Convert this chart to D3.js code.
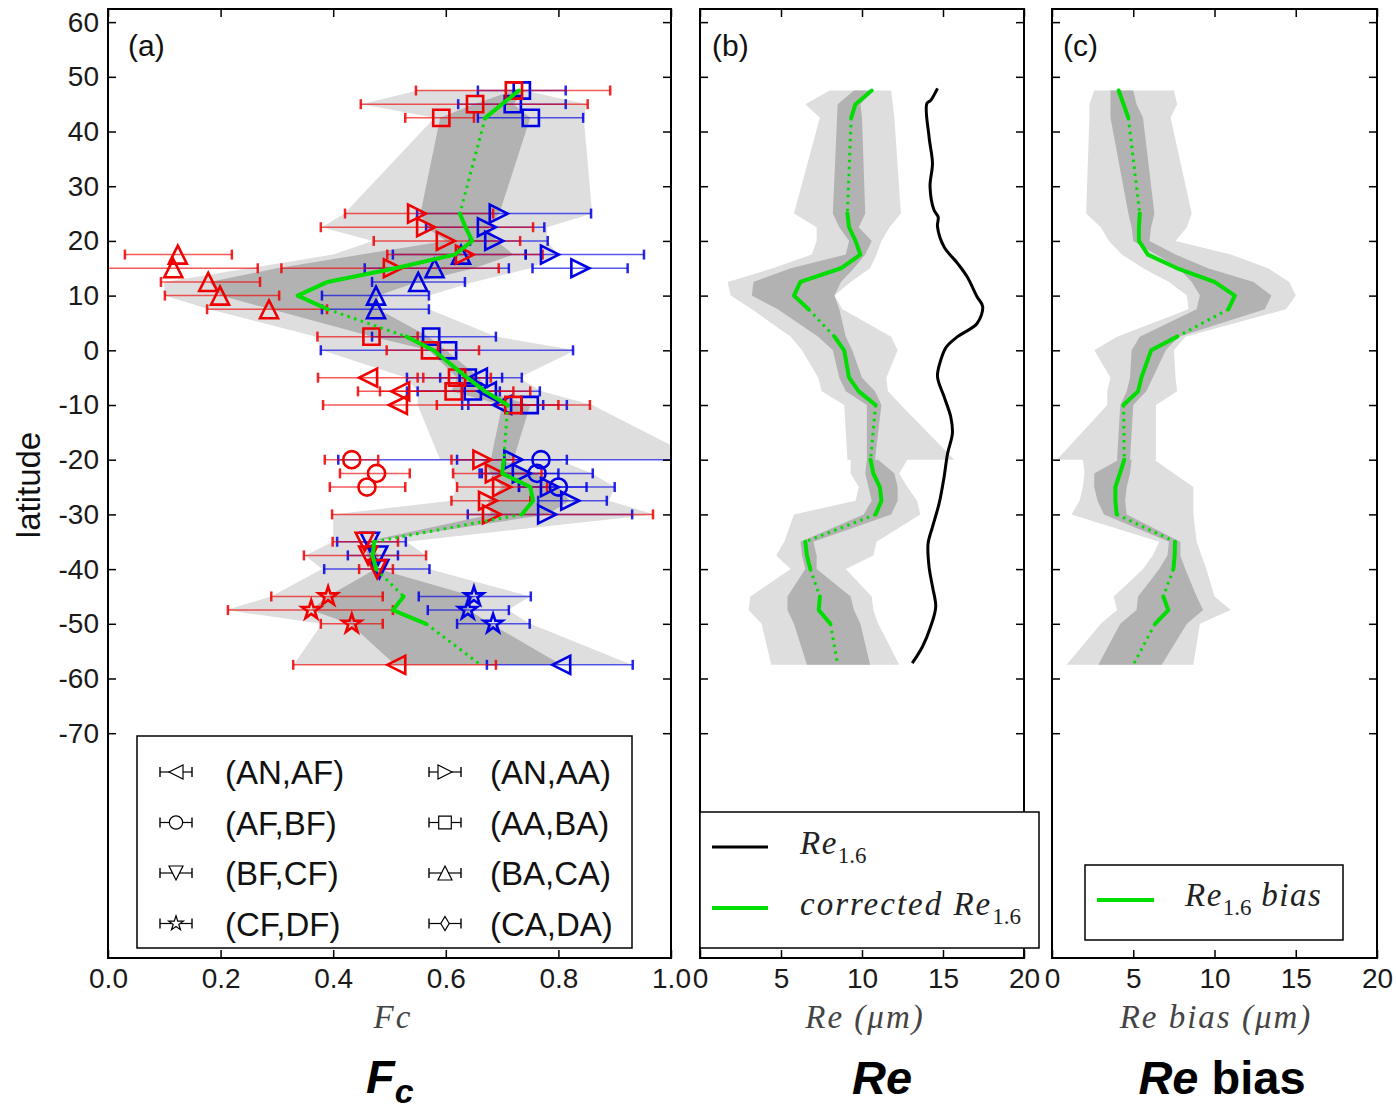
<!DOCTYPE html>
<html>
<head>
<meta charset="utf-8">
<script src="https://cdn.jsdelivr.net/npm/d3@7"></script>
<style>
  body { margin: 0; background: #fff; }
  svg text { font-family: "Liberation Sans", Arial, sans-serif; }
  svg text.serif { font-family: "Liberation Serif", "DejaVu Serif", serif; }
</style>
</head>
<body>
<div id="chart"></div>
<script>
// ---- data ----
const pairNames = ['(AN,AF)', '(AN,AA)', '(AF,BF)', '(AA,BA)', '(BF,CF)', '(BA,CA)', '(CF,DF)', '(CA,DA)'];

// Fc markers: pair index, latitude, red value + error bar, blue value + error bar
const markerPair = [3, 3, 3, 1, 1, 1, 1, 1, 5, 5, 5, 5, 5, 3, 3, 0, 0, 0, 3, 3, 3, 1, 1, 1, 1, 1, 2, 2, 2, 4, 4, 4, 6, 6, 6, 0];
const markerLat  = [47.5, 45, 42.5, 25, 22.5, 20, 17.5, 15, 17.5, 15, 12.5, 10, 7.5, 2.5, 0, -5, -7.5, -10, -5, -7.5, -10, -20, -22.5, -25, -27.5, -30, -20, -22.5, -25, -35, -37.5, -40, -45, -47.5, -50, -57.5];
const redFc  = [0.721, 0.652, 0.592, 0.549, 0.565, 0.600, 0.634, 0.506, 0.124, 0.116, 0.178, 0.199, 0.286, 0.468, 0.572, 0.462, 0.519, 0.515, 0.620, 0.614, 0.720, 0.665, 0.687, 0.700, 0.675, 0.682, 0.433, 0.477, 0.460, 0.456, 0.462, 0.478, 0.391, 0.361, 0.433, 0.512];
const redLo  = [0.547, 0.449, 0.528, 0.421, 0.378, 0.472, 0.496, 0.308, 0.030, -0.02, 0.094, 0.101, 0.176, 0.372, 0.495, 0.373, 0.444, 0.382, 0.560, 0.483, 0.584, 0.610, 0.613, 0.620, 0.610, 0.398, 0.385, 0.412, 0.394, 0.399, 0.348, 0.446, 0.290, 0.213, 0.378, 0.329];
const redHi  = [0.892, 0.852, 0.650, 0.684, 0.755, 0.732, 0.772, 0.694, 0.220, 0.266, 0.270, 0.304, 0.389, 0.550, 0.659, 0.550, 0.750, 0.856, 0.680, 0.720, 0.800, 0.720, 0.770, 0.780, 0.750, 0.968, 0.480, 0.536, 0.528, 0.515, 0.565, 0.506, 0.488, 0.506, 0.488, 0.689];
const blueFc = [0.735, 0.719, 0.751, 0.694, 0.673, 0.686, 0.785, 0.839, 0.627, 0.580, 0.551, 0.476, 0.476, 0.574, 0.604, 0.657, 0.673, 0.700, 0.639, 0.648, 0.749, 0.720, 0.735, 0.785, 0.821, 0.780, 0.769, 0.762, 0.800, 0.465, 0.480, 0.482, 0.650, 0.639, 0.684, 0.805];
const blueLo = [0.657, 0.622, 0.657, 0.549, 0.565, 0.643, 0.742, 0.754, 0.506, 0.456, 0.469, 0.380, 0.380, 0.469, 0.378, 0.531, 0.550, 0.640, 0.590, 0.531, 0.629, 0.620, 0.660, 0.730, 0.764, 0.639, 0.409, 0.664, 0.730, 0.407, 0.426, 0.384, 0.552, 0.568, 0.620, 0.673];
const blueHi = [0.813, 0.813, 0.844, 0.858, 0.775, 0.781, 0.952, 0.923, 0.742, 0.712, 0.634, 0.570, 0.570, 0.689, 0.826, 0.735, 0.767, 0.773, 0.700, 0.696, 0.815, 1.050, 0.800, 0.850, 0.886, 0.931, 0.815, 0.861, 0.900, 0.529, 0.515, 0.571, 0.751, 0.712, 0.749, 0.932];

// rows used for the shaded spreads and the green profiles
const rowLat   = [47.5, 45, 42.5, 25, 22.5, 20, 17.5, 15, 12.5, 10, 7.5, 2.5, 0, -5, -7.5, -10, -20, -20, -22.5, -25, -27.5, -30, -35, -37.5, -40, -45, -47.5, -50, -57.5];
const rowGroup = [1, 1, 1, 2, 2, 2, 2, 2, 2, 2, 2, 3, 3, 3, 3, 3, 4, 4, 4, 4, 4, 4, 5, 5, 5, 6, 6, 6, 7];

const fcGreen    = [0.73, 0.70, 0.67, 0.625, 0.635, 0.647, 0.616, 0.51, 0.39, 0.337, 0.39, 0.53, 0.578, 0.638, 0.67, 0.71, 0.703, 0.703, 0.70, 0.75, 0.755, 0.735, 0.473, 0.47, 0.476, 0.525, 0.506, 0.565, 0.662];
const fcLightLo  = [0.55, 0.45, 0.58, 0.42, 0.38, 0.47, 0.40, 0.25, 0.10, 0.10, 0.18, 0.37, 0.38, 0.53, 0.55, 0.55, 0.59, 0.61, 0.61, 0.62, 0.61, 0.40, 0.40, 0.35, 0.38, 0.29, 0.21, 0.38, 0.33];
const fcLightHi  = [0.74, 0.85, 0.845, 0.86, 0.78, 0.78, 0.80, 0.75, 0.65, 0.57, 0.57, 0.69, 0.83, 0.73, 0.77, 0.86, 1.05, 0.80, 0.86, 0.90, 0.89, 0.97, 0.53, 0.565, 0.57, 0.75, 0.71, 0.75, 0.93];
const fcDarkLo   = [0.72, 0.65, 0.59, 0.555, 0.565, 0.60, 0.45, 0.30, 0.18, 0.20, 0.29, 0.47, 0.57, 0.62, 0.61, 0.70, 0.68, 0.665, 0.68, 0.70, 0.675, 0.68, 0.456, 0.46, 0.475, 0.39, 0.36, 0.43, 0.51];
const fcDarkHi   = [0.74, 0.72, 0.75, 0.695, 0.675, 0.69, 0.72, 0.65, 0.55, 0.48, 0.48, 0.57, 0.60, 0.66, 0.67, 0.75, 0.72, 0.70, 0.76, 0.80, 0.82, 0.78, 0.465, 0.48, 0.48, 0.65, 0.64, 0.68, 0.805];

const reGreen    = [10.6, 9.6, 9.33, 9.1, 9.2, 9.6, 9.9, 8.7, 6.2, 5.8, 6.7, 8.3, 8.9, 9.2, 9.8, 10.84, 10.53, 10.53, 10.7, 11.1, 11.2, 10.84, 6.5, 6.6, 6.81, 7.4, 7.33, 8.05, 8.5];
const reLightLo  = [8.0, 6.5, 7.4, 5.8, 7.2, 7.2, 6.9, 4.5, 1.7, 1.9, 3.2, 5.6, 6.3, 7.3, 7.5, 8.9, 9.1, 9.3, 9.3, 9.8, 9.6, 5.8, 5.2, 4.7, 5.6, 3.1, 3.0, 3.8, 4.4];
const reLightHi  = [11.8, 11.9, 12.0, 12.4, 11.7, 11.2, 10.9, 10.5, 9.3, 8.3, 8.8, 11.8, 12.2, 11.5, 11.6, 12.4, 15.7, 12.8, 12.3, 12.8, 13.4, 13.6, 10.9, 10.7, 9.0, 10.6, 10.7, 11.0, 12.3];
const reDarkLo   = [9.5, 8.5, 8.46, 8.2, 8.6, 9.2, 9.0, 5.6, 3.3, 3.2, 4.8, 7.3, 8.2, 8.6, 9.0, 10.3, 10.3, 10.3, 10.2, 10.4, 10.6, 10.1, 6.2, 6.3, 6.5, 5.4, 5.4, 5.8, 6.6];
const reDarkHi   = [10.7, 9.9, 10.0, 10.2, 9.8, 10.6, 10.2, 9.5, 8.7, 8.3, 8.6, 9.0, 9.4, 10.0, 10.8, 11.2, 10.8, 11.0, 12.0, 12.2, 12.2, 11.8, 7.0, 7.2, 7.2, 9.3, 9.5, 9.9, 10.5];

const biasGreen   = [4.1, 4.4, 4.7, 5.4, 5.35, 5.35, 5.9, 7.7, 10.0, 11.25, 10.85, 7.7, 6.1, 5.5, 5.3, 4.4, 4.45, 4.45, 4.18, 3.9, 3.9, 3.98, 7.57, 7.55, 7.47, 6.85, 7.16, 6.34, 5.0];
const biasLightLo = [2.6, 2.3, 2.3, 2.1, 3.0, 3.5, 4.3, 5.6, 7.2, 8.3, 8.4, 4.0, 2.6, 3.6, 3.4, 3.4, 0.3, 1.9, 2.0, 1.9, 1.7, 1.2, 6.6, 6.2, 5.6, 3.8, 4.0, 3.0, 0.9];
const biasLightHi = [7.5, 7.7, 7.3, 8.6, 8.3, 7.6, 11.0, 13.3, 14.6, 15.0, 14.4, 8.2, 7.5, 7.6, 7.7, 6.4, 6.4, 6.3, 7.5, 8.7, 8.7, 8.7, 8.9, 9.2, 9.5, 10.0, 11.0, 9.1, 8.7];
const biasDarkLo  = [3.6, 3.6, 3.6, 4.7, 4.9, 5.0, 6.4, 7.8, 8.6, 9.1, 8.9, 5.4, 4.9, 4.8, 4.6, 4.2, 4.0, 4.1, 2.6, 2.6, 2.8, 3.2, 7.2, 7.1, 6.6, 5.3, 5.2, 4.2, 2.85];
const biasDarkHi  = [5.0, 5.2, 5.6, 6.3, 6.1, 6.0, 7.6, 9.6, 12.4, 13.5, 13.1, 7.8, 7.0, 6.2, 5.8, 5.0, 4.8, 4.9, 4.8, 4.6, 4.5, 4.6, 7.9, 7.9, 8.2, 8.9, 9.3, 8.3, 6.75];

// uncorrected Re1.6 profile (black)
const re16Lat = [47.9, 45.7, 45.1, 39.0, 34.2, 29.9, 25.6, 24.4, 22.6, 18.9, 15.9, 13.4, 9.8, 8.0, 4.9, 2.5, 0.6, -1.8, -4.8, -8.5, -12.2, -15.2, -18.9, -23.1, -28.0, -32.3, -35.3, -39.6, -43.2, -46.9, -50.5, -54.2, -57.2];
const re16    = [14.66, 14.24, 14.0, 14.14, 14.35, 14.2, 14.45, 14.7, 14.66, 15.07, 15.9, 16.5, 17.1, 17.45, 17.1, 15.9, 15.2, 14.86, 14.66, 15.07, 15.48, 15.58, 15.28, 15.07, 14.76, 14.35, 14.08, 14.14, 14.35, 14.55, 14.24, 13.73, 13.1];

const latTicks = d3.range(-70, 61, 10);
const fcTicks = [0, 0.2, 0.4, 0.6, 0.8, 1.0];
const reTicks = [0, 5, 10, 15, 20];

// ---- layout ----
const W = 1396, H = 1110;
const topY = 9, bottomY = 958;
const RED = '#f00000', BLUE = '#0000e6', GREEN = '#00dd00';
const LIGHT = '#dedede', DARK = '#b2b2b2';
const markerKind = ['tl', 'tr', 'ci', 'sq', 'td', 'tu', 'st', 'di'];

const svg = d3.select('#chart').append('svg')
  .attr('width', W)
  .attr('height', H);

const y = d3.scaleLinear().domain([-111.1, 62.4]).range([bottomY, topY]);
const xA = d3.scaleLinear().domain([0, 1]).range([108, 671]);
const xB = d3.scaleLinear().domain([0, 20]).range([700, 1024]);
const xC = d3.scaleLinear().domain([0, 20]).range([1052, 1377]);

function markerPath(kind, r) {
  if (kind == 'tl') return `M${-r},0L${r},${-r}L${r},${r}Z`;
  if (kind == 'tr') return `M${r},0L${-r},${-r}L${-r},${r}Z`;
  if (kind == 'tu') return `M0,${-r}L${r},${r}L${-r},${r}Z`;
  if (kind == 'td') return `M0,${r}L${r},${-r}L${-r},${-r}Z`;
  if (kind == 'sq') { var s = r * 0.9; return `M${-s},${-s}H${s}V${s}H${-s}Z`; }
  if (kind == 'ci') return d3.arc()({innerRadius: 0, outerRadius: r * 0.95, startAngle: 0, endAngle: 2 * Math.PI});
  if (kind == 'di') return `M0,${-r}L${r * 0.6},0L0,${r}L${-r * 0.6},0Z`;
  // star
  var pts = d3.range(10).map(function(i) {
    var a = -Math.PI / 2 + i * Math.PI / 5;
    var rr = i % 2 ? r * 0.42 : r * 1.1;
    return [rr * Math.cos(a), rr * Math.sin(a)];
  });
  return 'M' + pts.join('L') + 'Z';
}

function clip(id, x) {
  svg.append('clipPath').attr('id', id)
    .append('rect')
    .attr('x', x.range()[0]).attr('y', topY)
    .attr('width', x.range()[1] - x.range()[0]).attr('height', bottomY - topY);
}

function bands(g, x, lightLo, lightHi, darkLo, darkHi) {
  var rows = rowLat.map(function(lat, i) { return i; });
  var area = function(lo, hi) {
    return d3.area()
      .y(function(i) { return y(rowLat[i]); })
      .x0(function(i) { return x(lo[i]); })
      .x1(function(i) { return x(hi[i]); });
  };
  g.append('path').attr('d', area(lightLo, lightHi)(rows)).attr('fill', LIGHT);
  g.append('path').attr('d', area(darkLo, darkHi)(rows)).attr('fill', DARK);
}

function greenProfile(g, x, vals) {
  var line = d3.line()
    .x(function(i) { return x(vals[i]); })
    .y(function(i) { return y(rowLat[i]); });
  var groups = d3.groups(rowLat.map(function(d, i) { return i; }), function(i) { return rowGroup[i]; });
  groups.forEach(function(gr, k) {
    var idx = gr[1];
    if (idx.length > 1) {
      g.append('path').attr('d', line(idx))
        .attr('fill', 'none').attr('stroke', GREEN).attr('stroke-width', 4)
        .attr('stroke-linejoin', 'round').attr('stroke-linecap', 'round');
    }
    if (k < groups.length - 1) {
      var next = groups[k + 1][1][0];
      g.append('path').attr('d', line([idx[idx.length - 1], next]))
        .attr('fill', 'none').attr('stroke', GREEN).attr('stroke-width', 3)
        .attr('stroke-dasharray', '2.5,4.5');
    }
  });
}

function frame(x, ticks, fmt, leftLabels) {
  var g = svg.append('g').attr('class', 'frame');
  g.append('g').attr('transform', `translate(0,${bottomY})`)
    .call(d3.axisBottom(x).tickValues(ticks).tickSize(-8).tickPadding(10).tickFormat(fmt));
  g.append('g').attr('transform', `translate(0,${topY})`)
    .call(d3.axisTop(x).tickValues(ticks).tickSize(-8).tickFormat(''));
  g.append('g').attr('transform', `translate(${x.range()[0]},0)`)
    .call(d3.axisLeft(y).tickValues(latTicks).tickSize(-8).tickPadding(9)
      .tickFormat(leftLabels ? function(d) { return String(d); } : ''));
  g.append('g').attr('transform', `translate(${x.range()[1]},0)`)
    .call(d3.axisRight(y).tickValues(latTicks).tickSize(-8).tickFormat(''));
  g.selectAll('.domain').remove();
  g.selectAll('.tick line').attr('stroke', '#000').attr('stroke-width', 1.5);
  g.selectAll('.tick text').attr('font-size', 28).attr('fill', '#1a1a1a');
  g.append('rect')
    .attr('x', x.range()[0]).attr('y', topY)
    .attr('width', x.range()[1] - x.range()[0]).attr('height', bottomY - topY)
    .attr('fill', 'none').attr('stroke', '#000').attr('stroke-width', 2);
}

clip('clipA', xA); clip('clipB', xB); clip('clipC', xC);

// ---- panel (a) ----
var gA = svg.append('g').attr('clip-path', 'url(#clipA)');
bands(gA, xA, fcLightLo, fcLightHi, fcDarkLo, fcDarkHi);

function errorSet(val, lo, hi, color) {
  var gg = gA.append('g');
  markerLat.forEach(function(lat, i) {
    var yy = y(lat);
    gg.append('line')
      .attr('x1', xA(lo[i])).attr('x2', xA(hi[i]))
      .attr('y1', yy).attr('y2', yy)
      .attr('stroke', color).attr('stroke-width', 1.5).attr('stroke-opacity', 0.65);
    [lo[i], hi[i]].forEach(function(v) {
      gg.append('line')
        .attr('x1', xA(v)).attr('x2', xA(v))
        .attr('y1', yy - 5).attr('y2', yy + 5)
        .attr('stroke', color).attr('stroke-width', 2.5).attr('stroke-opacity', 0.85);
    });
  });
  return gg;
}
function markerSet(val, color) {
  gA.append('g').selectAll('path')
    .data(markerLat)
    .enter()
    .append('path')
    .attr('transform', function(lat, i) { return `translate(${xA(val[i])},${y(lat)})`; })
    .attr('d', function(lat, i) { return markerPath(markerKind[markerPair[i]], 9); })
    .attr('fill', 'none')
    .attr('stroke', color)
    .attr('stroke-width', 2.6);
}
errorSet(blueFc, blueLo, blueHi, BLUE);
errorSet(redFc, redLo, redHi, RED);
markerSet(blueFc, BLUE);
markerSet(redFc, RED);
greenProfile(gA, xA, fcGreen);

frame(xA, fcTicks, d3.format('.1f'), true);

// legend (a)
var legA = svg.append('g');
legA.append('rect').attr('x', 137).attr('y', 736).attr('width', 495).attr('height', 212)
  .attr('fill', '#fff').attr('stroke', '#000').attr('stroke-width', 1.5);
pairNames.forEach(function(name, i) {
  var col = i % 2, row = Math.floor(i / 2);
  var cx = col ? 445 : 176, cy = 772 + row * 50.5, tx = col ? 490 : 225;
  legA.append('line').attr('x1', cx - 16).attr('x2', cx + 16).attr('y1', cy).attr('y2', cy)
    .attr('stroke', '#000').attr('stroke-width', 1.2);
  [cx - 16, cx + 16].forEach(function(v) {
    legA.append('line').attr('x1', v).attr('x2', v).attr('y1', cy - 5).attr('y2', cy + 5)
      .attr('stroke', '#000').attr('stroke-width', 1.4);
  });
  legA.append('path').attr('transform', `translate(${cx},${cy})`)
    .attr('d', markerPath(markerKind[i], 7))
    .attr('fill', '#fff').attr('stroke', '#000').attr('stroke-width', 1.2);
  legA.append('text').attr('x', tx).attr('y', cy + 12).attr('font-size', 33).attr('fill', '#111')
    .text(name);
});

// ---- panel (b) ----
var gB = svg.append('g').attr('clip-path', 'url(#clipB)');
bands(gB, xB, reLightLo, reLightHi, reDarkLo, reDarkHi);
greenProfile(gB, xB, reGreen);
gB.append('path')
  .attr('d', d3.line().curve(d3.curveCatmullRom)
    .x(function(d, i) { return xB(re16[i]); })
    .y(function(d) { return y(d); })(re16Lat))
  .attr('fill', 'none').attr('stroke', '#000').attr('stroke-width', 3);
frame(xB, reTicks, d3.format('d'), false);

// ---- panel (c) ----
var gC = svg.append('g').attr('clip-path', 'url(#clipC)');
bands(gC, xC, biasLightLo, biasLightHi, biasDarkLo, biasDarkHi);
greenProfile(gC, xC, biasGreen);
frame(xC, reTicks, d3.format('d'), false);

// legends (b), (c)
var legB = svg.append('g');
legB.append('rect').attr('x', 700).attr('y', 812).attr('width', 339).attr('height', 136)
  .attr('fill', '#fff').attr('stroke', '#000').attr('stroke-width', 1.5);
legB.append('line').attr('x1', 712).attr('x2', 768).attr('y1', 847).attr('y2', 847)
  .attr('stroke', '#000').attr('stroke-width', 3);
legB.append('line').attr('x1', 712).attr('x2', 768).attr('y1', 908).attr('y2', 908)
  .attr('stroke', GREEN).attr('stroke-width', 4);
var t1 = legB.append('text').attr('class', 'serif').attr('x', 800).attr('y', 854).attr('font-size', 33)
  .attr('fill', '#222');
t1.append('tspan').attr('font-style', 'italic').attr('letter-spacing', 1.5).text('Re');
t1.append('tspan').attr('font-size', 23).attr('dy', 9).text('1.6');
var t2 = legB.append('text').attr('class', 'serif').attr('x', 800).attr('y', 915).attr('font-size', 33)
  .attr('fill', '#222');
t2.append('tspan').attr('font-style', 'italic').attr('letter-spacing', 2).text('corrected Re');
t2.append('tspan').attr('font-size', 23).attr('dy', 9).text('1.6');

var legC = svg.append('g');
legC.append('rect').attr('x', 1085).attr('y', 865).attr('width', 258).attr('height', 75)
  .attr('fill', '#fff').attr('stroke', '#000').attr('stroke-width', 1.5);
legC.append('line').attr('x1', 1097).attr('x2', 1154).attr('y1', 900).attr('y2', 900)
  .attr('stroke', GREEN).attr('stroke-width', 4);
var t3 = legC.append('text').attr('class', 'serif').attr('x', 1185).attr('y', 906).attr('font-size', 33)
  .attr('fill', '#222');
t3.append('tspan').attr('font-style', 'italic').attr('letter-spacing', 1.5).text('Re');
t3.append('tspan').attr('font-size', 23).attr('dy', 9).text('1.6');
t3.append('tspan').attr('font-style', 'italic').attr('letter-spacing', 1.5).attr('dy', -9).text(' bias');

// panel tags
[['(a)', 128], ['(b)', 712], ['(c)', 1063]].forEach(function(p) {
  svg.append('text').attr('x', p[1]).attr('y', 56).attr('font-size', 30).attr('fill', '#111').text(p[0]);
});

// axis titles
svg.append('text').attr('transform', 'translate(40,485) rotate(-90)')
  .attr('text-anchor', 'middle').attr('font-size', 33).attr('fill', '#111').text('latitude');

function serifLabel(x, label) {
  svg.append('text').attr('class', 'serif').attr('x', x).attr('y', 1028).attr('text-anchor', 'middle')
    .attr('font-size', 33).attr('font-style', 'italic').attr('letter-spacing', 2).attr('fill', '#444')
    .text(label);
}
serifLabel(393, 'Fc');
serifLabel(865, 'Re (\u03bcm)');
serifLabel(1216, 'Re bias (\u03bcm)');

// big bold captions
var fc = svg.append('text').attr('x', 366).attr('y', 1093).attr('font-size', 47)
  .attr('font-weight', 'bold').attr('fill', '#000');
fc.append('tspan').attr('font-style', 'italic').text('F');
fc.append('tspan').attr('font-style', 'italic').attr('font-size', 34).attr('dy', 10).text('c');
svg.append('text').attr('x', 882).attr('y', 1094).attr('text-anchor', 'middle').attr('font-size', 47)
  .attr('font-weight', 'bold').attr('font-style', 'italic').attr('fill', '#000').text('Re');
var rb = svg.append('text').attr('x', 1222).attr('y', 1094).attr('text-anchor', 'middle').attr('font-size', 47)
  .attr('font-weight', 'bold').attr('fill', '#000');
rb.append('tspan').attr('font-style', 'italic').text('Re');
rb.append('tspan').text(' bias');
</script>
</body>
</html>
